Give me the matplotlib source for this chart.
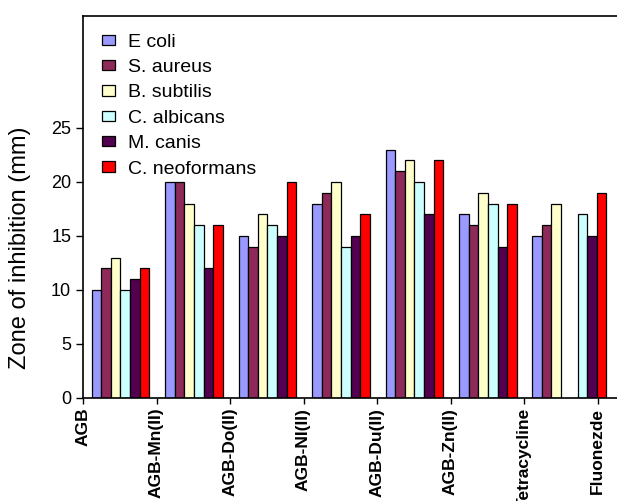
import numpy as np
import matplotlib
matplotlib.use("Agg")
import matplotlib.pyplot as plt
import matplotlib.transforms as mtransforms

plt.rcParams["font.family"] = ["Liberation Sans", "DejaVu Sans"]

compounds = ["AGB", "AGB-Mn(II)", "AGB-Do(II)", "AGB-NI(II)", "AGB-Du(II)",
             "AGB-Zn(II)", "Tetracycline", "Fluonezde"]
organisms = ["E coli", "S. aureus", "B. subtilis", "C. albicans", "M. canis",
             "C. neoformans"]
nan = np.nan
e_coli = [10, 20, 15, 18, 23, 17, 15, nan]
s_aureus = [12, 20, 14, 19, 21, 16, 16, nan]
b_subtilis = [13, 18, 17, 20, 22, 19, 18, nan]
c_albicans = [10, 16, 16, 14, 20, 18, nan, 17]
m_canis = [11, 12, 15, 15, 17, 14, nan, 15]
c_neoformans = [12, 16, 20, 17, 22, 18, nan, 19]
series = [e_coli, s_aureus, b_subtilis, c_albicans, m_canis, c_neoformans]
colors = ["#9999FF", "#8E2A5A", "#FFFFCC", "#CCFFFF", "#52004F", "#FF0000"]

fig = plt.figure(figsize=(6.17, 5.01), dpi=100)
ax = fig.add_axes([83 / 617, 103 / 501, (645 - 83) / 617, (398 - 16) / 501])

width = 0.13
# group centres: the two standards share the last slot in the original
centers = np.append(np.arange(6) + 0.51, [6.50, 6.73])
for k, (vals, col, name) in enumerate(zip(series, colors, organisms)):
    x = centers - 3 * width + k * width
    ax.bar(x, vals, width, align="edge", color=col, edgecolor="black",
           linewidth=0.9, label=name)

ax.set_xlim(0, (645 - 83) / 73.5)
ax.set_ylim(0, 382 / 10.8)
ax.set_yticks(np.arange(0, 26, 5))
ax.set_xticks(np.arange(len(compounds)))
ax.set_xticklabels(compounds, rotation=90, fontsize=12.5, fontweight="bold")
shift = mtransforms.ScaledTranslation(4 / 100, 0, fig.dpi_scale_trans)
for lab in ax.get_xticklabels():
    lab.set_transform(lab.get_transform() + shift)
ax.tick_params(axis="y", labelsize=13, length=5, width=1, direction="out")
ax.tick_params(axis="x", length=4, width=1, pad=3)
ax.set_ylabel("Zone of inhibition (mm)", fontsize=17)
ax.yaxis.set_label_coords(-0.093, 0.393)
for s in ax.spines.values():
    s.set_linewidth(1.2)

ax.legend(loc="upper left", bbox_to_anchor=(0.02, 0.974), frameon=False,
          fontsize=14, handlelength=0.65, handleheight=0.45,
          handletextpad=0.7, labelspacing=0.43, borderaxespad=0)

fig.savefig("out.png", dpi=100)
